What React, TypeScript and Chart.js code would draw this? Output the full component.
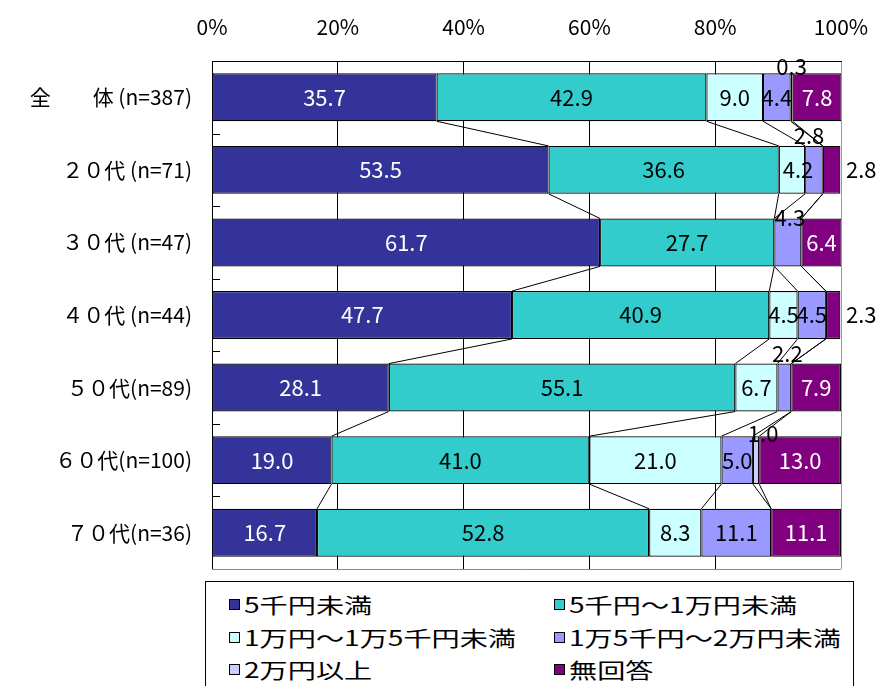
import { useEffect, useRef } from 'react'
import { Chart, registerables, Plugin } from 'chart.js'

Chart.register(...registerables)

// 年代別 支出額の分布（%）
const categories = [
  '全　　体 (n=387)',
  '２０代 (n=71)',
  '３０代 (n=47)',
  '４０代 (n=44)',
  '５０代(n=89)',
  '６０代(n=100)',
  '７０代(n=36)',
]
const seriesNames = [
  '5千円未満',
  '5千円～1万円未満',
  '1万円～1万5千円未満',
  '1万5千円～2万円未満',
  '2万円以上',
  '無回答',
]
const under5k = [35.7, 53.5, 61.7, 47.7, 28.1, 19.0, 16.7]
const from5kTo10k = [42.9, 36.6, 27.7, 40.9, 55.1, 41.0, 52.8]
const from10kTo15k = [9.0, 4.2, 0, 4.5, 6.7, 21.0, 8.3]
const from15kTo20k = [4.4, 2.8, 4.3, 4.5, 2.2, 5.0, 11.1]
const over20k = [0.3, 0, 0, 0, 0, 1.0, 0]
const noAnswer = [7.8, 2.8, 6.4, 2.3, 7.9, 13.0, 11.1]
const xTicks = [0, 20, 40, 60, 80, 100]

const seriesValues = [under5k, from5kTo10k, from10kTo15k, from15kTo20k, over20k, noAnswer]
const seriesColors = ['#333399', '#33CCCC', '#CCFFFF', '#9999FF', '#CCCCFF', '#800080']
const labelColors = ['#fff', '#000', '#000', '#000', '#000', '#fff']

const FONT = "'Noto Sans CJK JP', 'Noto Sans', sans-serif"

// label nudges for the small segments (dataset-category)
type Tweak = { mode: 'in' | 'above' | 'right'; dx?: number; dy?: number }
const labelTweaks: Record<string, Tweak> = {
  '4-0': { mode: 'above', dx: 0, dy: -7 },
  '2-1': { mode: 'in', dx: 6 },
  '3-1': { mode: 'above', dx: -5, dy: -10 },
  '5-1': { mode: 'right', dx: 5 },
  '3-2': { mode: 'above', dx: 2, dy: -1 },
  '5-3': { mode: 'right', dx: 5 },
  '3-4': { mode: 'above', dx: 3, dy: -10 },
  '4-5': { mode: 'above', dx: 7, dy: -3 },
}

const seriesLinesPlugin: Plugin<'bar'> = {
  id: 'seriesLines',
  afterDatasetsDraw(chart) {
    const { ctx, chartArea } = chart
    const xScale = chart.scales.x
    const yScale = chart.scales.y
    const first = chart.getDatasetMeta(0).data[0] as any
    const half = first.height / 2

    ctx.save()
    // bottom edge and the small inner ticks on the category axis
    ctx.strokeStyle = '#888'
    ctx.lineWidth = 1
    ctx.beginPath()
    ctx.moveTo(chartArea.left, chartArea.bottom + 0.5)
    ctx.lineTo(chartArea.right, chartArea.bottom + 0.5)
    ctx.stroke()
    ctx.strokeStyle = '#000'
    const step = (chartArea.bottom - chartArea.top) / categories.length
    for (let i = 1; i < categories.length; i++) {
      const y = Math.round(chartArea.top + step * i) + 0.5
      ctx.beginPath()
      ctx.moveTo(chartArea.left, y)
      ctx.lineTo(chartArea.left + 8, y)
      ctx.stroke()
    }

    // series lines between bars
    for (let i = 0; i < categories.length - 1; i++) {
      let cumA = 0
      let cumB = 0
      for (let d = 0; d < seriesValues.length - 1; d++) {
        cumA += seriesValues[d][i]
        cumB += seriesValues[d][i + 1]
        const xA = xScale.getPixelForValue(cumA)
        const xB = xScale.getPixelForValue(cumB)
        const yA = yScale.getPixelForValue(i) + half
        const yB = yScale.getPixelForValue(i + 1) - half
        ctx.beginPath()
        ctx.moveTo(xA, yA)
        ctx.lineTo(xB, yB)
        ctx.stroke()
      }
    }
    ctx.restore()
  },
}

const valueLabelsPlugin: Plugin<'bar'> = {
  id: 'valueLabels',
  afterDatasetsDraw(chart) {
    const { ctx, chartArea } = chart
    ctx.save()
    ctx.font = `22px ${FONT}`
    ctx.textBaseline = 'middle'
    chart.data.datasets.forEach((ds, d) => {
      const meta = chart.getDatasetMeta(d)
      meta.data.forEach((el: any, i) => {
        const v = seriesValues[d][i]
        if (!v) return
        const { x, base, y, height } = el.getProps(['x', 'base', 'y', 'height'], true)
        const tw = labelTweaks[`${d}-${i}`] || { mode: 'in' }
        const text = v.toFixed(1)
        let tx = (x + base) / 2 + (tw.dx || 0)
        let ty = y
        ctx.textAlign = 'center'
        ctx.fillStyle = labelColors[d]
        if (tw.mode === 'above') {
          ty = y - height / 2 + (tw.dy || 0)
          ctx.fillStyle = '#000'
        } else if (tw.mode === 'right') {
          tx = chartArea.right + (tw.dx || 0)
          ctx.textAlign = 'left'
          ctx.fillStyle = '#000'
        }
        ctx.fillText(text, tx, ty)
      })
    })
    ctx.restore()
  },
}

function StackedBarChart() {
  const canvasRef = useRef<HTMLCanvasElement>(null)
  const chartRef = useRef<Chart | null>(null)

  useEffect(() => {
    if (!canvasRef.current) return
    if (chartRef.current) chartRef.current.destroy()

    chartRef.current = new Chart(canvasRef.current, {
      type: 'bar',
      data: {
        labels: categories,
        datasets: seriesNames.map((name, d) => ({
          label: name,
          data: seriesValues[d].map((v) => (v ? v : null)),
          backgroundColor: seriesColors[d],
          borderColor: '#000',
          borderWidth: 1.2,
          borderSkipped: false,
          barPercentage: 0.66,
          categoryPercentage: 1,
        })),
      },
      options: {
        indexAxis: 'y',
        responsive: true,
        maintainAspectRatio: false,
        animation: false,
        layout: { padding: { left: 0, top: 0, right: 41, bottom: 117 } },
        plugins: {
          legend: { display: false },
          tooltip: { enabled: false },
        },
        scales: {
          x: {
            position: 'top',
            stacked: true,
            min: 0,
            max: 100,
            afterFit: (scale: any) => {
              scale.height = 61
              scale.paddingLeft = 0
              scale.paddingRight = 0
            },
            afterBuildTicks: (scale) => {
              scale.ticks = xTicks.map((value) => ({ value }))
            },
            ticks: {
              padding: 21,
              color: '#000',
              font: { family: FONT, size: 21 },
              callback: (v) => `${v}%`,
            },
            grid: {
              drawTicks: false,
              color: (c) => (c.tick && c.tick.value === 100 ? '#999' : '#000'),
              lineWidth: 1,
            },
            border: { display: true, color: '#000', width: 1 },
          },
          y: {
            stacked: true,
            afterFit: (scale) => {
              scale.width = 212
            },
            ticks: {
              padding: 20,
              color: '#000',
              font: { family: FONT, size: 21 },
            },
            grid: { display: false, drawTicks: false },
            border: { display: true, color: '#000', width: 1 },
          },
        },
      },
      plugins: [seriesLinesPlugin, valueLabelsPlugin],
    })

    return () => {
      if (chartRef.current) {
        chartRef.current.destroy()
        chartRef.current = null
      }
    }
  }, [])

  return (
    <div style={{ position: 'absolute', left: 0, top: 0, width: 882, height: 686 }}>
      <canvas ref={canvasRef} />
    </div>
  )
}

function Legend() {
  const rowTops = [22, 55, 87]
  const colLefts = [23, 348]
  return (
    <div
      style={{
        position: 'absolute',
        left: 205,
        top: 581,
        width: 647,
        height: 120,
        border: '1px solid #000',
        background: '#fff',
        fontFamily: FONT,
        fontSize: 21,
        color: '#000',
      }}
    >
      {seriesNames.map((name, d) => (
        <div
          key={name}
          style={{
            position: 'absolute',
            left: colLefts[d % 2],
            top: rowTops[Math.floor(d / 2)] - 14,
            height: 28,
            display: 'flex',
            alignItems: 'center',
            whiteSpace: 'nowrap',
          }}
        >
          <span
            style={{
              display: 'inline-block',
              width: 9,
              height: 9,
              border: '1px solid #000',
              background: seriesColors[d],
              marginRight: 4,
            }}
          />
          <span style={{ display: 'inline-block', transform: 'scaleX(1.34)', transformOrigin: 'left center' }}>
            {name}
          </span>
        </div>
      ))}
    </div>
  )
}

export default function App() {
  return (
    <div style={{ position: 'absolute', left: 0, top: 0, width: 882, height: 686, overflow: 'hidden', background: '#fff' }}>
      <StackedBarChart />
      <Legend />
    </div>
  )
}
